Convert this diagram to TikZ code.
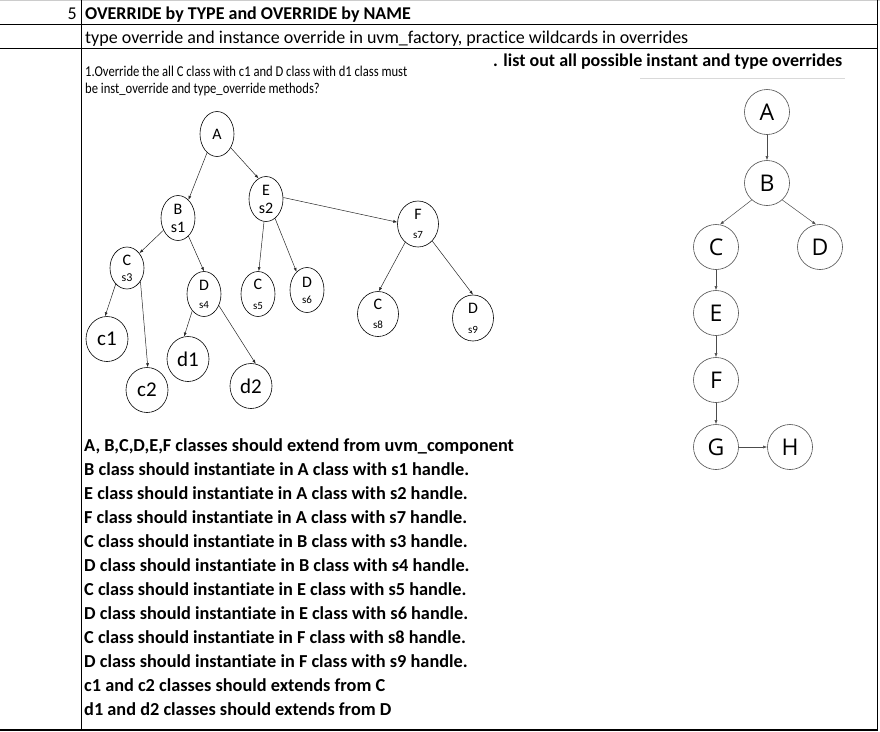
\documentclass[tikz,border=0pt]{standalone}
\usepackage{fontspec}
\setmainfont{Carlito}[Ligatures={NoCommon}]
\newfontfamily\rfont{Open Sans}
\usetikzlibrary{positioning,arrows.meta,shapes.geometric}

\begin{document}
\begin{tikzpicture}[x=1pt,y=-1pt,
  cls/.style={ellipse,draw,line width=0.6pt,minimum width=34pt,minimum height=45pt,
    inner sep=0pt,align=center,font=\fontsize{16}{14}\selectfont},
  sub/.style={cls,minimum width=42pt,minimum height=45pt,font=\fontsize{21}{21}\selectfont},
  rnode/.style={circle,draw=black!70,line width=0.6pt,minimum size=45pt,inner sep=0pt,
    font=\rfont\fontsize{23}{23}\selectfont},
  arr/.style={-{Latex[length=4pt,width=3pt]},line width=0.5pt,draw=black!85},
  txt/.style={anchor=base west,inner sep=0pt}]
\useasboundingbox (0,0) rectangle (880,731);
% table grid
\draw[gray!40] (0,0.5) -- (880,0.5);
\draw[line width=0.8pt] (0,24) -- (878,24) (0,48) -- (878,48);
\draw[line width=0.8pt] (81,0) -- (81,731);
\draw[line width=1.5pt] (0,730) -- (878,730) (877.5,0) -- (877.5,731);
% header rows
\node[anchor=base east,inner sep=0pt,font=\fontsize{18}{18}\selectfont] (hdnum) at (77,19) {5};
\node[txt,font=\bfseries\fontsize{18}{18}\selectfont] (hdtitle) at (85,19) {OVERRIDE by TYPE and OVERRIDE by NAME};
\node[txt,font=\fontsize{18}{18}\selectfont] (hdsub) at (85,43) {type override and instance override in uvm\_factory, practice wildcards in overrides};
% question
\node[txt,font=\fontsize{15}{15}\selectfont] (qline1) at (85,76) {\scalebox{0.84}[1]{1.Override the all C class with c1 and D class with d1 class must}};
\node[txt,font=\fontsize{15}{15}\selectfont] (qline2) at (85,93) {\scalebox{0.84}[1]{be inst\_override and type\_override methods?}};
\node[txt,font=\bfseries\fontsize{18}{18}\selectfont] (rtitle) at (493,66) {. list out all possible instant and type overrides};
\draw[gray!30] (640,78.5) -- (845,78.5);

% class tree
\node[cls] (A) at (217,134) {A};
\node[cls] (B1) at (178,218) {B\\[4pt]s1};
\node[cls] (E2) at (266,199) {E\\[4pt]s2};
\node[cls,minimum width=41pt,minimum height=46pt] (F7) at (418,224) {F\\[5pt]{\fontsize{11}{11}\selectfont s7}};
\node[cls,minimum height=42pt] (C3) at (127,268) {C\\[2pt]{\fontsize{12}{12}\selectfont s3}};
\node[cls] (D4) at (204,294) {D\\[4pt]{\fontsize{11}{11}\selectfont s4}};
\node[cls] (C5) at (258,294) {C\\[6pt]{\fontsize{11}{11}\selectfont s5}};
\node[cls] (D6) at (307,290) {D\\[2pt]{\fontsize{11}{11}\selectfont s6}};
\node[cls,minimum width=41pt] (C8) at (378,314) {C\\[5pt]{\fontsize{11}{11}\selectfont s8}};
\node[cls,minimum width=41pt,minimum height=46pt] (D9) at (473,318) {D\\[6pt]{\fontsize{11}{11}\selectfont s9}};
\node[sub] (c1) at (107,339) {c1};
\node[sub] (c2) at (147,390) {c2};
\node[sub] (d1) at (188,359) {d1};
\node[sub] (d2) at (251,386) {d2};
\draw[arr] (A.-118) -- (B1.60);
\draw[arr] (A.-45) -- (E2.110);
\draw[arr] (E2.5) -- (F7.175);
\draw[arr] (B1.-140) -- (C3.50);
\draw[arr] (B1.-60) -- (D4.90);
\draw[arr] (C3.-125) -- (c1.95);
\draw[arr] (C3.-45) -- (c2.88);
\draw[arr] (D4.-125) -- (d1.100);
\draw[arr] (D4.-38) -- (d2.78);
\draw[arr] (E2.-95) -- (C5.88);
\draw[arr] (E2.-65) -- (D6.120);
\draw[arr] (F7.-125) -- (C8.88);
\draw[arr] (F7.-50) -- (D9.90);

% requirements
\foreach \t [count=\i] in {{A, B,C,D,E,F classes should extend from uvm\_component},
  {B class should instantiate in A class with s1 handle.},
  {E class should instantiate in A class with s2 handle.},
  {F class should instantiate in A class with s7 handle.},
  {C class should instantiate in B class with s3 handle.},
  {D class should instantiate in B class with s4 handle.},
  {C class should instantiate in E class with s5 handle.},
  {D class should instantiate in E class with s6 handle.},
  {C class should instantiate in F class with s8 handle.},
  {D class should instantiate in F class with s9 handle.},
  {c1 and c2 classes should extends from C},
  {d1 and d2 classes should extends from D}}
  \node[txt,font=\bfseries\fontsize{18.3}{18}\selectfont] (req\i) at (84,{451.7+24*(\i-1)}) {\t};

% override tree
\node[rnode] (rA) at (767,112) {A};
\node[rnode] (rB) at (767,183) {B};
\node[rnode] (rC) at (716,247) {C};
\node[rnode] (rD) at (820,247) {D};
\node[rnode] (rE) at (716,313) {E};
\node[rnode] (rF) at (716,380) {F};
\node[rnode] (rG) at (716,447) {G};
\node[rnode] (rH) at (790,447) {H};
\draw[arr,draw=black!70] (rA) -- (rB);
\draw[arr,draw=black!70] (rB.-132) -- (rC.80);
\draw[arr,draw=black!70] (rB.-48) -- (rD.100);
\draw[arr,draw=black!70] (rC) -- (rE);
\draw[arr,draw=black!70] (rE) -- (rF);
\draw[arr,draw=black!70] (rF) -- (rG);
\draw[arr,draw=black!70] (rG) -- (rH);
\end{tikzpicture}
\end{document}
